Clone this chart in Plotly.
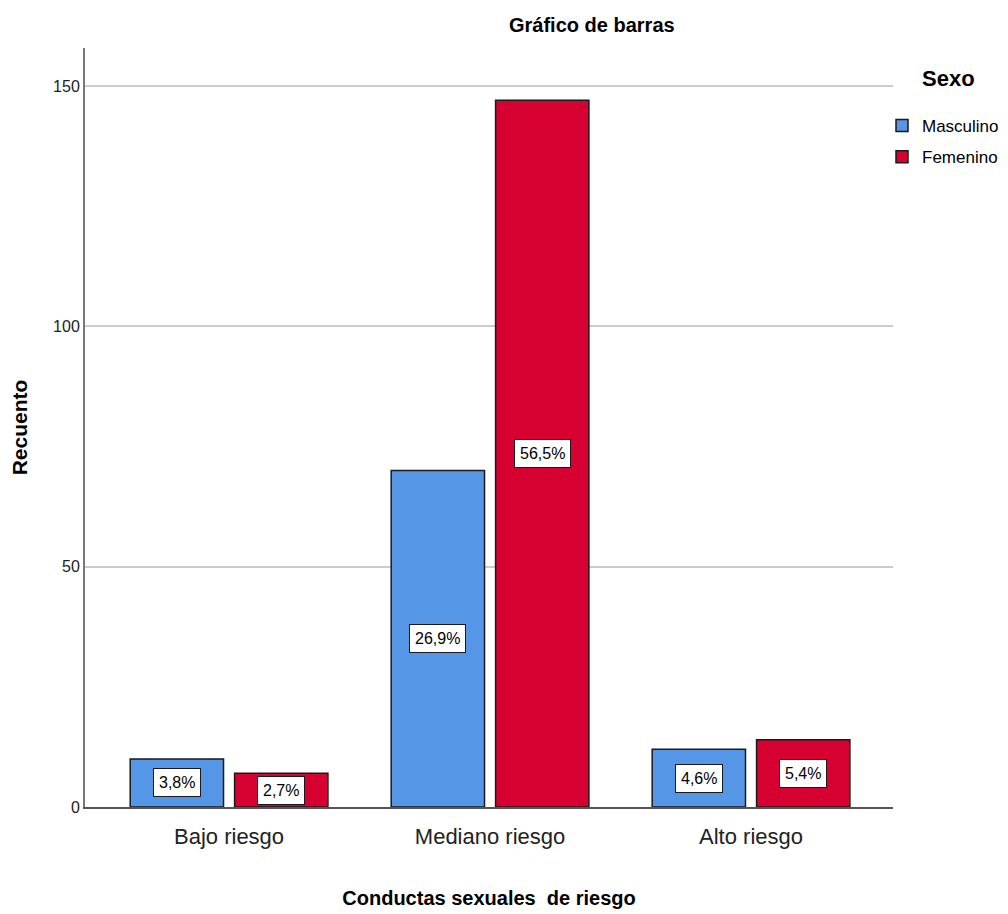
import plotly.graph_objects as go

categories = ["Bajo riesgo", "Mediano riesgo", "Alto riesgo"]
masculino = [10, 70, 12]
femenino = [7, 147, 14]
series_names = ["Masculino", "Femenino"]
colors = ["#5597E6", "#D60031"]
y_ticks = [0, 50, 100, 150]

total = sum(masculino) + sum(femenino)

# page body has an 8px margin; figure is offset accordingly
OFF = 8
W, H = 1000, 906
ml, mt = 85 - OFF, 48 - OFF
mr = W - (893 - OFF)
mb = H - (807 - OFF)
pw = W - ml - mr
ph = H - mt - mb

BARGAP = 0.2
BARGROUPGAP = 0.106
FONT = "Liberation Sans Narrow, Arial Narrow, Liberation Sans, Arial"
BOLD = "Liberation Sans, Arial"

fig = go.Figure()
for name, vals, col in zip(series_names, [masculino, femenino], colors):
    fig.add_trace(go.Bar(
        x=categories, y=vals, name=name, legendgroup=name,
        marker=dict(color=col, line=dict(color="#1a1a1a", width=1.5)),
        hoverinfo="x+y+name",
    ))

# percentage labels
slot = (1 - BARGAP) / 2
for k, vals in enumerate([masculino, femenino]):
    off = (k - 0.5) * slot
    for i, v in enumerate(vals):
        pct = v / total * 100
        txt = f"{pct:.1f}%".replace(".", ",")
        fig.add_annotation(
            x=i + off, y=v / 2, xref="x", yref="y", text=txt, showarrow=False,
            font=dict(family=FONT, size=16, color="#000"),
            bgcolor="white", bordercolor="#1a1a1a", borderwidth=1, borderpad=5,
        )

fig.update_layout(
    width=W, height=H,
    margin=dict(l=ml, r=mr, t=mt, b=mb, autoexpand=False),
    paper_bgcolor="white", plot_bgcolor="white",
    barmode="group", bargap=BARGAP, bargroupgap=BARGROUPGAP,
    showlegend=True,
    legend=dict(
        xref="container", yref="container",
        x=(882 - OFF) / W, xanchor="left", y=1 - (108 - OFF) / H, yanchor="top",
        font=dict(family=FONT, size=17, color="#000"),
        bgcolor="rgba(0,0,0,0)",
        itemwidth=30, traceorder="grouped", tracegroupgap=6,
    ),
    font=dict(family=FONT, color="#000"),
)

fig.update_xaxes(
    type="category", range=[-0.552, 2.544], automargin=False,
    showline=True, linecolor="#555", linewidth=2,
    ticks="", ticklabelstandoff=9, tickfont=dict(family=FONT, size=22, color="#222"),
    title=dict(text="<b>Conductas sexuales  de riesgo</b>",
               font=dict(family=BOLD, size=20, color="#000"), standoff=43),
    showgrid=False,
)
fig.update_yaxes(
    range=[0, ph / 4.807], tickvals=y_ticks, automargin=False,
    showline=True, linecolor="#777", linewidth=2,
    ticks="", tickfont=dict(family=FONT, size=16, color="#222"),
    showgrid=True, gridcolor="#cccccc", gridwidth=2,
    zeroline=False,
    title=dict(text="<b>Recuento</b>", font=dict(family=BOLD, size=21, color="#000"), standoff=26),
)

fig.add_annotation(
    text="<b>Gráfico de barras</b>", xref="paper", yref="paper",
    x=(592 - 85) / pw, y=1 + (48 - 25) / ph, showarrow=False,
    font=dict(family=BOLD, size=20, color="#000"), xanchor="center", yanchor="middle",
)
fig.add_annotation(
    text="<b>Sexo</b>", xref="paper", yref="paper",
    x=(920 - 85) / pw, y=1 - (78 - 48) / ph, showarrow=False,
    font=dict(family=BOLD, size=22, color="#000"), xanchor="left", yanchor="middle",
)

fig.write_html("out.html")
